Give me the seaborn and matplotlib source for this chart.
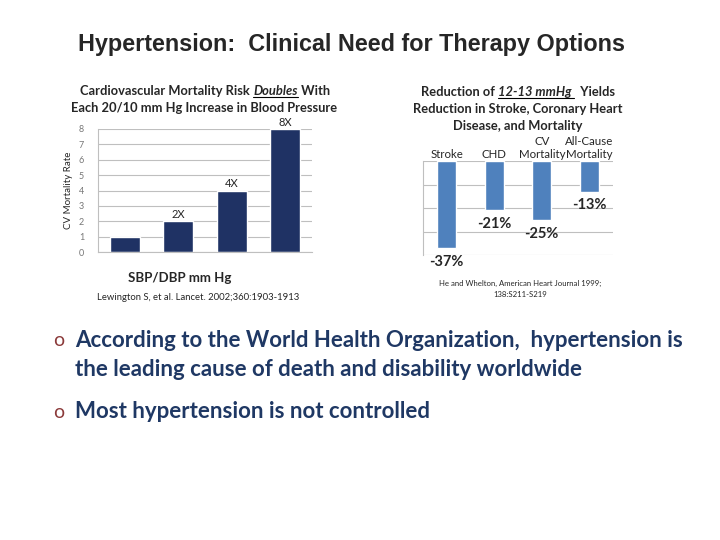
import matplotlib
matplotlib.use("Agg")
import matplotlib.pyplot as plt
from matplotlib.lines import Line2D
import seaborn as sns

# left chart: mortality risk doubling
risk_steps = ["A", "B", "C", "D"]
risk_values = [1, 2, 4, 8]
risk_labels = ["", "2X", "4X", "8X"]

# right chart: reductions after 12-13 mmHg drop
outcomes = ["Stroke", "CHD", "CV\nMortality", "All-Cause\nMortality"]
reductions = [-37, -21, -25, -13]

bullets = [
    "According to the World Health Organization,  hypertension is\nthe leading cause of death and disability worldwide",
    "Most hypertension is not controlled",
]

NAVY = "#1F3264"
BLUE = "#4F81BD"
GRID = "#BFBFBF"

sns.set_style("white")
plt.rcParams["font.family"] = ["Lato", "DejaVu Sans"]

fig = plt.figure(figsize=(7.2, 5.4), dpi=100)
W, H = 720, 540


def fx(px):
    return px / W


def fy(py):
    return 1 - py / H


fig.text(fx(351), fy(44), "Hypertension:  Clinical Need for Therapy Options",
         ha="center", va="center", fontsize=16.8, fontweight="bold",
         family="Liberation Sans")

# ---- left chart
ax1 = fig.add_axes([fx(98), fy(252), fx(214), (252 - 129) / H])
sns.barplot(x=risk_steps, y=risk_values, color=NAVY, width=0.56,
            saturation=1, ax=ax1)
ax1.set_ylim(0, 8)
ax1.set_yticks(range(0, 9))
ax1.tick_params(axis="y", labelsize=6.5, labelcolor="#777777", length=0, pad=10)
ax1.set_xticks([i - 0.5 for i in range(5)])
ax1.set_xticklabels([])
ax1.tick_params(axis="x", length=4, color=GRID)
ax1.set_xlim(-0.5, 3.5)
ax1.yaxis.grid(True, color=GRID, lw=0.8)
ax1.set_axisbelow(True)
for s in ["top", "right"]:
    ax1.spines[s].set_visible(False)
for s in ["left", "bottom"]:
    ax1.spines[s].set_color(GRID)
ax1.set_xlabel("")
ax1.set_ylabel("CV Mortality Rate", fontsize=7, labelpad=4)
for i, (v, lab) in enumerate(zip(risk_values, risk_labels)):
    ax1.annotate(lab, (i, v), xytext=(0, 1), textcoords="offset points",
                 ha="center", va="bottom", fontsize=8)

# ---- right chart
ax2 = fig.add_axes([fx(423), fy(255), fx(190), (255 - 161) / H])
sns.barplot(x=outcomes, y=reductions, color=BLUE, width=0.4,
            saturation=1, ax=ax2)
ax2.set_ylim(-40, 0)
ax2.set_yticks([-40, -30, -20, -10, 0])
ax2.set_yticklabels([])
ax2.tick_params(axis="y", length=0)
ax2.xaxis.tick_top()
ax2.tick_params(axis="x", length=0, labelsize=8.3, pad=1)
for lab in ax2.get_xticklabels():
    lab.set_linespacing(1.2)
ax2.yaxis.grid(True, color=GRID, lw=0.8)
ax2.set_axisbelow(True)
for s in ["top", "right", "bottom"]:
    ax2.spines[s].set_visible(False)
ax2.spines["left"].set_color(GRID)
ax2.set_xlabel("")
ax2.set_ylabel("")
for i, v in enumerate(reductions):
    ax2.annotate(f"{v}%", (i, v), xytext=(0, -5), textcoords="offset points",
                 ha="center", va="top", fontsize=10.5, fontweight="bold")

# ---- titles with mixed styling
renderer = fig.canvas.get_renderer()


def rich_line(xc, y, parts, size):
    texts = []
    for s, style in parts:
        t = fig.text(0, fy(y), s, fontsize=size, va="baseline",
                     fontweight="bold", **style.get("props", {}))
        texts.append((t, style))
    widths = [t.get_window_extent(renderer).width for t, _ in texts]
    x = xc - sum(widths) / 2
    for (t, style), w in zip(texts, widths):
        t.set_x(fx(x))
        if style.get("underline"):
            fig.add_artist(Line2D([fx(x), fx(x + w)], [fy(y + 2)] * 2,
                                  transform=fig.transFigure, color="black", lw=0.8))
        x += w


plain = {}
emph = {"props": {"style": "italic"}, "underline": True}
rich_line(205, 95, [("Cardiovascular Mortality Risk ", plain), ("Doubles", emph),
                    (" With", plain)], 9.3)
rich_line(204, 112, [("Each 20/10 mm Hg Increase in Blood Pressure", plain)], 9.3)
rich_line(518, 96, [("Reduction of ", plain), ("12-13 mmHg ", emph), ("  Yields", plain)], 9.3)
rich_line(518, 113, [("Reduction in Stroke, Coronary Heart", plain)], 9.3)
rich_line(518, 130, [("Disease, and Mortality", plain)], 9.3)

fig.text(fx(180), fy(278), "SBP/DBP mm Hg", ha="center", va="center",
         fontsize=9.5, fontweight="bold")
fig.text(fx(97), fy(297), "Lewington S, et al. Lancet. 2002;360:1903-1913",
         ha="left", va="center", fontsize=6.8)
fig.text(fx(520), fy(289), "He and Whelton, American Heart Journal 1999;\n138:S211-S219",
         ha="center", va="center", fontsize=5.6, linespacing=1.6)

# ---- bullet points
for text, y in zip(bullets, [340, 411]):
    fig.text(fx(59), fy(y + 1), "o", ha="center", va="center", fontsize=14,
             color="#8B3A3A")
    fig.text(fx(75), fy(y - 10), text, ha="left", va="top", fontsize=16,
             fontweight="bold", color="#1F3864", linespacing=1.45)

fig.savefig("out.png", dpi=100)
